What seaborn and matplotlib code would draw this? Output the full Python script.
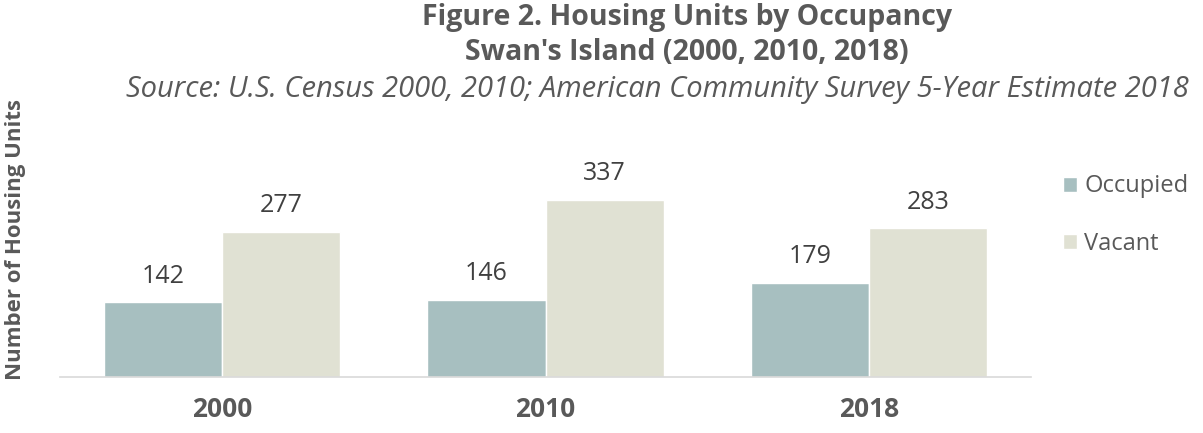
import pandas as pd
import matplotlib.pyplot as plt
import seaborn as sns
from matplotlib.patches import Patch

years = ['2000', '2010', '2018']
occupied = [142, 146, 179]
vacant = [277, 337, 283]
series = ['Occupied', 'Vacant']
colors = ['#A7BFC0', '#E0E1D3']
text_color = '#595959'

df = pd.DataFrame({
    'Year': years * 2,
    'Status': ['Occupied'] * 3 + ['Vacant'] * 3,
    'Units': occupied + vacant,
})

sns.set_style('white')
plt.rcParams['font.family'] = ['Open Sans', 'DejaVu Sans']

fig = plt.figure(figsize=(12.03, 4.33), dpi=100)
ax = fig.add_axes([60 / 1203, 1 - 377 / 433, (1031 - 60) / 1203, (377 - 167) / 433])

sns.barplot(data=df, x='Year', y='Units', hue='Status', palette=colors,
            width=0.73, ax=ax, legend=False, saturation=1)

for cont in ax.containers:
    ax.bar_label(cont, fontsize=18, color='#404040', padding=10)

ax.set_ylim(0, 400)
ax.set_xlim(-0.5, 2.5)
ax.set_yticks([])
ax.set_xlabel('')
ax.set_ylabel('')
for s in ['top', 'right', 'left']:
    ax.spines[s].set_visible(False)
ax.spines['bottom'].set_color('#D9D9D9')
ax.spines['bottom'].set_linewidth(1.2)
ax.tick_params(axis='x', length=0, pad=14)
for lab in ax.get_xticklabels():
    lab.set_fontweight('bold')
    lab.set_fontsize(19)
    lab.set_color(text_color)

fig.text(687 / 1203, 1 - 17 / 433, 'Figure 2. Housing Units by Occupancy', ha='center', va='center',
         fontsize=20.5, fontweight='bold', color=text_color)
fig.text(687 / 1203, 1 - 53 / 433, "Swan's Island (2000, 2010, 2018)", ha='center', va='center',
         fontsize=20.5, fontweight='bold', color=text_color)
fig.text(657 / 1203, 1 - 90 / 433,
         'Source: U.S. Census 2000, 2010; American Community Survey 5-Year Estimate 2018',
         ha='center', va='center', fontsize=21, style='italic', color=text_color)
fig.text(16 / 1203, 1 - 240 / 433, 'Number of Housing Units', rotation=90, ha='center', va='center',
         fontsize=16, fontweight='bold', color=text_color)

# legend
handles = [Patch(facecolor=c, label=s) for c, s in zip(colors, series)]
leg = fig.legend(handles=handles, loc='center left', bbox_to_anchor=(1042 / 1203, 1 - 215 / 433),
                 frameon=False, fontsize=17, handlelength=0.6, handleheight=0.6,
                 handletextpad=0.3, labelspacing=1.4)
for t in leg.get_texts():
    t.set_color(text_color)

fig.savefig('out.png', dpi=100)
